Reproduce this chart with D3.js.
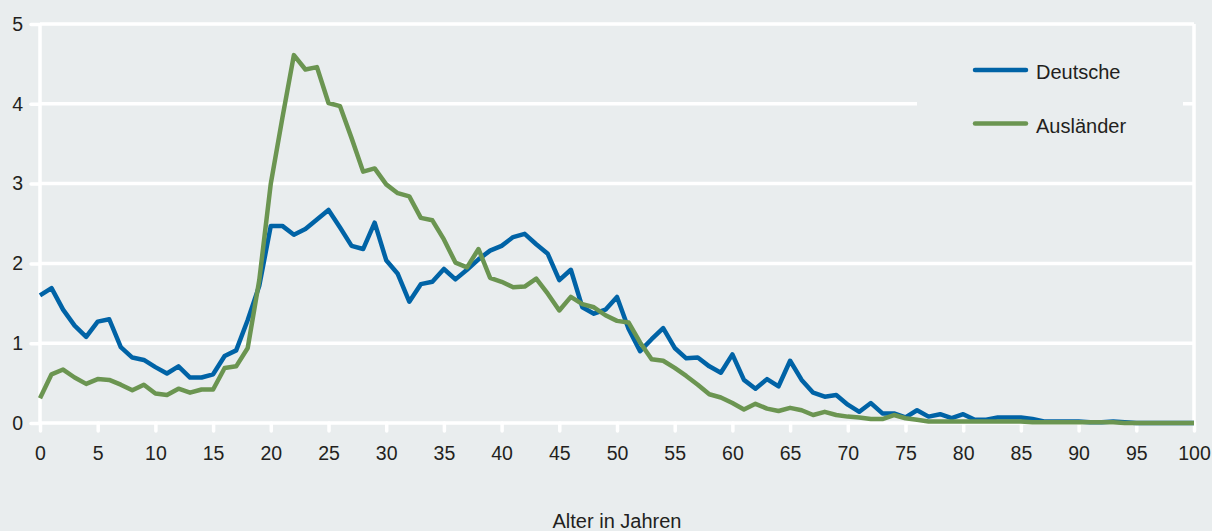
<!DOCTYPE html>
<html>
<head>
<meta charset="utf-8">
<script src="https://cdn.jsdelivr.net/npm/d3@7"></script>
<style>
  body { margin: 0; background: #e9edee; }
  svg { display: block; font-family: "Liberation Sans", Arial, sans-serif; }
</style>
</head>
<body>
<svg width="1212" height="531"></svg>
<script>
// Alter 0..100
let ages = d3.range(0, 101);

let deutsche = [
  1.60, 1.69, 1.42, 1.22, 1.08, 1.27, 1.30, 0.95, 0.82, 0.79,
  0.70, 0.62, 0.71, 0.57, 0.57, 0.61, 0.84, 0.91, 1.29, 1.72,
  2.47, 2.47, 2.36, 2.43, 2.55, 2.67, 2.45, 2.22, 2.18, 2.51,
  2.04, 1.87, 1.52, 1.74, 1.77, 1.93, 1.80, 1.92, 2.05, 2.16,
  2.22, 2.33, 2.37, 2.24, 2.12, 1.79, 1.92, 1.45, 1.37, 1.42,
  1.58, 1.18, 0.90, 1.05, 1.19, 0.94, 0.81, 0.82, 0.71, 0.63,
  0.86, 0.54, 0.43, 0.55, 0.46, 0.78, 0.54, 0.38, 0.33, 0.35,
  0.23, 0.14, 0.25, 0.12, 0.12, 0.07, 0.16, 0.08, 0.11, 0.06,
  0.11, 0.04, 0.04, 0.07, 0.07, 0.07, 0.05, 0.02, 0.02, 0.02,
  0.02, 0.01, 0.01, 0.02, 0.01, 0, 0, 0, 0, 0,
  0
];

let auslaender = [
  0.31, 0.61, 0.67, 0.57, 0.49, 0.55, 0.54, 0.48, 0.41, 0.48,
  0.37, 0.35, 0.43, 0.38, 0.42, 0.42, 0.69, 0.71, 0.94, 1.79,
  3.00, 3.82, 4.61, 4.43, 4.46, 4.01, 3.97, 3.57, 3.15, 3.19,
  2.99, 2.88, 2.84, 2.57, 2.54, 2.30, 2.01, 1.95, 2.18, 1.82,
  1.77, 1.70, 1.71, 1.81, 1.62, 1.41, 1.58, 1.49, 1.45, 1.35,
  1.28, 1.26, 1.01, 0.80, 0.78, 0.69, 0.59, 0.48, 0.36, 0.32,
  0.25, 0.17, 0.24, 0.18, 0.15, 0.19, 0.16, 0.10, 0.14, 0.10,
  0.08, 0.07, 0.05, 0.05, 0.10, 0.06, 0.04, 0.02, 0.02, 0.02,
  0.02, 0.02, 0.02, 0.02, 0.02, 0.02, 0.01, 0.01, 0.01, 0.01,
  0.01, 0.01, 0.01, 0.01, 0, 0, 0, 0, 0, 0,
  0
];

let xTicks = d3.range(0, 101, 5);
let yTicks = [0, 1, 2, 3, 4, 5];
let seriesNames = ["Deutsche", "Ausländer"];
let seriesColors = ["#0063a6", "#6b9551"];

let svg = d3.select("svg"),
    margin = {top: 24, right: 18, bottom: 108, left: 40},
    width = 1212 - margin.left - margin.right,
    height = 531 - margin.top - margin.bottom;

let x = d3.scaleLinear().domain([0, 100]).range([0, width]);
let y = d3.scaleLinear().domain([0, 5]).range([height, 0]);

let g = svg.append("g")
    .attr("transform", "translate(" + margin.left + "," + margin.top + ")");

// gridlines
g.selectAll(".grid")
    .data(yTicks)
    .enter().append("line")
    .attr("x1", 0)
    .attr("x2", width)
    .attr("y1", d => y(d))
    .attr("y2", d => y(d))
    .attr("stroke", "#fff")
    .attr("stroke-width", 3.5);

// left and right border
g.selectAll(".border")
    .data([0, 100])
    .enter().append("line")
    .attr("x1", d => x(d))
    .attr("x2", d => x(d))
    .attr("y1", 0)
    .attr("y2", height)
    .attr("stroke", "#fff")
    .attr("stroke-width", 3.5);

// legend box covers grid
g.append("rect")
    .attr("x", 877)
    .attr("y", 12)
    .attr("width", 266)
    .attr("height", 130)
    .attr("fill", "#e9edee");

let yAxis = g.append("g")
    .call(d3.axisLeft(y).tickValues(yTicks).tickFormat(d3.format("d")).tickSize(9).tickPadding(8));

let xAxis = g.append("g")
    .attr("transform", "translate(0," + height + ")")
    .call(d3.axisBottom(x).tickValues(xTicks).tickFormat(d3.format("d")).tickSize(8).tickPadding(15));

[xAxis, yAxis].forEach(function(a) {
  a.select(".domain").remove();
  a.selectAll(".tick line")
    .attr("stroke", "#fff")
    .attr("stroke-width", 3.5)
    .attr("stroke-linecap", "round");
  a.selectAll(".tick text")
    .attr("fill", "#231f20")
    .style("font-size", "19.5px")
    .style("font-family", "'Liberation Sans', Arial, sans-serif");
});

let line = d3.line()
    .x((d, i) => x(ages[i]))
    .y(d => y(d));

[deutsche, auslaender].forEach(function(s, i) {
  g.append("path")
    .datum(s)
    .attr("fill", "none")
    .attr("stroke", seriesColors[i])
    .attr("stroke-width", 4.5)
    .attr("stroke-linejoin", "round")
    .attr("d", line);
});

// legend
let legend = svg.append("g");
seriesNames.forEach(function(name, i) {
  let ly = 70 + i * 53.5;
  legend.append("line")
    .attr("x1", 975).attr("x2", 1026)
    .attr("y1", ly).attr("y2", ly)
    .attr("stroke", seriesColors[i])
    .attr("stroke-width", 4.5)
    .attr("stroke-linecap", "round");
  legend.append("text")
    .attr("x", 1036)
    .attr("y", ly + 9)
    .attr("fill", "#231f20")
    .style("font-size", "20px")
    .text(name);
});

// axis title
svg.append("text")
    .attr("x", margin.left + width / 2)
    .attr("y", 528)
    .style("text-anchor", "middle")
    .attr("fill", "#231f20")
    .style("font-size", "20px")
    .text("Alter in Jahren");
</script>
</body>
</html>
